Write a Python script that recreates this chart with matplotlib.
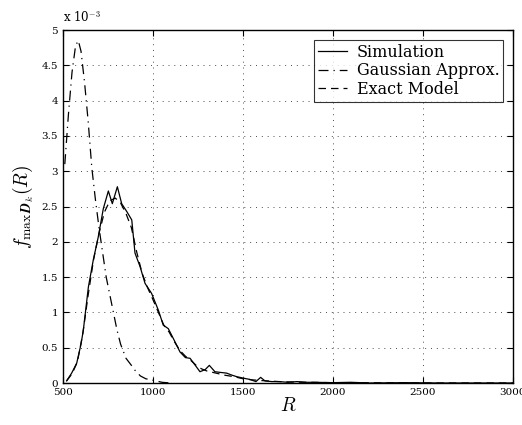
import numpy as np
import matplotlib.pyplot as plt

plt.rcParams['font.family'] = 'DejaVu Serif'
plt.rcParams['mathtext.fontset'] = 'cm'

# values, y in units of 1e-3
sim_r = [520, 548, 576, 600, 613, 641, 668, 696, 724, 752, 774, 802, 826, 854, 882, 900,
         928, 956, 992, 1030, 1057, 1085, 1113, 1150, 1180, 1206, 1235, 1261, 1290, 1313,
         1344, 1375, 1409, 1440, 1465, 1500, 1539, 1572, 1598, 1622, 1660, 1700, 1750, 1800,
         1850, 1900, 2000, 2100, 2200, 2400, 2600, 2800, 3000]
sim_f = [0.03, 0.14, 0.28, 0.55, 0.75, 1.36, 1.74, 2.07, 2.47, 2.72, 2.54, 2.78, 2.54, 2.43,
         2.31, 1.84, 1.65, 1.41, 1.27, 1.03, 0.82, 0.77, 0.63, 0.44, 0.36, 0.35, 0.25, 0.16,
         0.19, 0.25, 0.16, 0.15, 0.14, 0.11, 0.09, 0.07, 0.05, 0.02, 0.08, 0.03, 0.02, 0.02,
         0.01, 0.02, 0.01, 0.01, 0.005, 0.01, 0.0, 0.005, 0.0, 0.0, 0.0]

gauss_r = [510, 530, 550, 570, 585, 600, 620, 640, 660, 680, 700, 720, 740, 760, 780, 800,
           820, 850, 880, 900, 930, 960, 1000, 1050, 1100]
gauss_f = [3.1, 3.8, 4.4, 4.78, 4.85, 4.7, 4.25, 3.7, 3.05, 2.6, 2.2, 1.85, 1.5, 1.25, 1.0,
           0.75, 0.55, 0.35, 0.25, 0.18, 0.1, 0.06, 0.04, 0.01, 0.0]

exact_r = [520, 550, 580, 610, 640, 670, 700, 730, 760, 790, 820, 850, 880, 910, 940, 970,
           1000, 1030, 1060, 1090, 1120, 1150, 1180, 1210, 1240, 1270, 1300, 1350, 1400, 1450,
           1500, 1550, 1600, 1700, 1800, 2000, 2500, 3000]
exact_f = [0.03, 0.13, 0.3, 0.7, 1.25, 1.75, 2.12, 2.42, 2.58, 2.62, 2.55, 2.4, 2.2, 1.85,
           1.55, 1.35, 1.18, 1.0, 0.82, 0.72, 0.58, 0.46, 0.38, 0.32, 0.25, 0.2, 0.17, 0.14,
           0.11, 0.09, 0.06, 0.045, 0.035, 0.02, 0.012, 0.005, 0.0, 0.0]

fig = plt.figure(figsize=(5.22, 4.25), dpi=100)
ax = fig.add_axes([0.1207, 0.0988, 0.862, 0.8306])

ax.plot(sim_r, sim_f, 'k-', lw=0.9, label='Simulation')
ax.plot(gauss_r, gauss_f, color='k', lw=0.9, dashes=(8, 4, 1, 4), label='Gaussian Approx.')
ax.plot(exact_r, exact_f, color='k', lw=0.9, dashes=(6, 4), label='Exact Model')

ax.set_xlim(500, 3000)
ax.set_ylim(0, 5)
ax.set_xticks([500, 1000, 1500, 2000, 2500, 3000])
ax.set_yticks(np.arange(0, 5.01, 0.5))
ax.set_yticklabels(['0', '0.5', '1', '1.5', '2', '2.5', '3', '3.5', '4', '4.5', '5'])
ax.tick_params(direction='in', top=True, right=True, labelsize=7.5, length=4, width=0.8)
ax.grid(True, color='0.3', linestyle=(0, (1, 5)), linewidth=0.7)
for s in ax.spines.values():
    s.set_linewidth(1.0)

ax.text(0.0, 1.015, r'x 10$^{-3}$', transform=ax.transAxes, fontsize=8.5, va='bottom', ha='left')

ax.set_xlabel(r'$R$', fontsize=14, labelpad=0)
ax.set_ylabel(r'$f_{\max\,\boldsymbol{D}_k}(R)$', fontsize=14, labelpad=4)

leg = ax.legend(loc='upper right', fontsize=11.5, frameon=True, fancybox=False,
                edgecolor='k', borderaxespad=0.6, handlelength=1.8, borderpad=0.25,
                labelspacing=0.1, handletextpad=0.6)
leg.get_frame().set_linewidth(0.8)

fig.savefig('out.png', dpi=100)
